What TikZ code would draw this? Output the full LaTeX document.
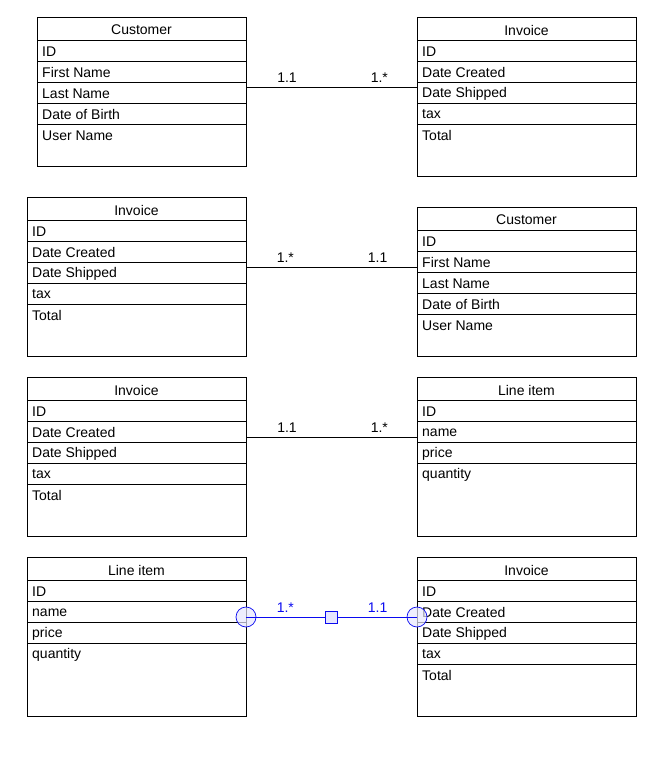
\documentclass[tikz,border=0pt]{standalone}
\usepackage{fontspec}
\setmainfont{Liberation Sans}
\usepackage{tikz}
\usetikzlibrary{calc}

\definecolor{linkblue}{RGB}{10,10,240}

% one class box: name, top-left corner, width, height, title, attribute rows
\newcommand{\umlclass}[6]{%
  \node[classbox,minimum width=#3,minimum height=#4,anchor=north west] (#1) at #2 {};
  \node[titlerow,minimum width=#3,anchor=north west] (#1-0) at (#1.north west) {};
  \node[titletext] at (#1-0.center) {#5};
  \foreach \attr [count=\i,remember=\i as \j (initially 0)] in {#6} {
    \node[attrrow,minimum width=#3,anchor=north west] (#1-\i) at (#1-\j.south west) {};
    \draw[rowline] (#1-\i.north west) -- (#1-\i.north east);
    \node[attrtext] at (#1-\i.west) {\attr};
  }%
}

\begin{document}
\begin{tikzpicture}[x=1pt,y=-1pt,font=\fontsize{14}{16}\selectfont,
  classbox/.style={draw=black,line width=.7pt,inner sep=0pt,outer sep=0pt},
  titlerow/.style={minimum height=23pt,inner sep=0pt,outer sep=0pt},
  titletext/.style={inner sep=0pt,yshift=-1.5pt},
  attrrow/.style={minimum height=21pt,inner sep=0pt,outer sep=0pt},
  rowline/.style={draw=black,line width=.7pt},
  attrtext/.style={anchor=west,inner sep=0pt,xshift=5pt,yshift=-1pt},
  assoc/.style={draw=black,line width=.7pt},
  mult/.style={above,inner sep=4.5pt},
  blueassoc/.style={draw=linkblue,line width=.7pt},
  bluemult/.style={above,inner sep=4.5pt,text=linkblue}]
 \useasboundingbox (0,0) rectangle (666,762);

 % pair 1
 \umlclass{custA}{(37,17)}{209}{149}{Customer}{ID,First Name,Last Name,Date of Birth,User Name}
 \umlclass{invA}{(417,17)}{219}{159}{Invoice}{ID,Date Created,Date Shipped,tax,Total}
 \draw[assoc] (custA.east |- 0,87) -- node[mult,pos=.24] {1.1} node[mult,pos=.78] {1.*} (invA.west |- 0,87);

 % pair 2
 \umlclass{invB}{(27,197)}{219}{159}{Invoice}{ID,Date Created,Date Shipped,tax,Total}
 \umlclass{custB}{(417,207)}{219}{149}{Customer}{ID,First Name,Last Name,Date of Birth,User Name}
 \draw[assoc] (invB.east |- 0,267) -- node[mult,pos=.23] {1.*} node[mult,pos=.77] {1.1} (custB.west |- 0,267);

 % pair 3
 \umlclass{invC}{(27,377)}{219}{159}{Invoice}{ID,Date Created,Date Shipped,tax,Total}
 \umlclass{itemC}{(417,377)}{219}{159}{Line item}{ID,name,price,quantity}
 \draw[assoc] (invC.east |- 0,437) -- node[mult,pos=.24] {1.1} node[mult,pos=.78] {1.*} (itemC.west |- 0,437);

 % pair 4
 \umlclass{itemD}{(27,557)}{219}{159}{Line item}{ID,name,price,quantity}
 \umlclass{invD}{(417,557)}{219}{159}{Invoice}{ID,Date Created,Date Shipped,tax,Total}
 \coordinate (endL) at (itemD.east |- 0,617);
 \coordinate (endR) at (invD.west |- 0,617);
 \fill[linkblue!10,fill opacity=.7] (endL) circle[radius=10] (endR) circle[radius=10];
 \draw[blueassoc] (endL) circle[radius=10] (endR) circle[radius=10];
 \draw[blueassoc] (endL) -- node[bluemult,pos=.23] {1.*} node[bluemult,pos=.77] {1.1} (endR);
 \node[blueassoc,fill=linkblue!10,minimum size=12pt,inner sep=0pt] (mid) at ($(endL)!.5!(endR)$) {};
\end{tikzpicture}
\end{document}
